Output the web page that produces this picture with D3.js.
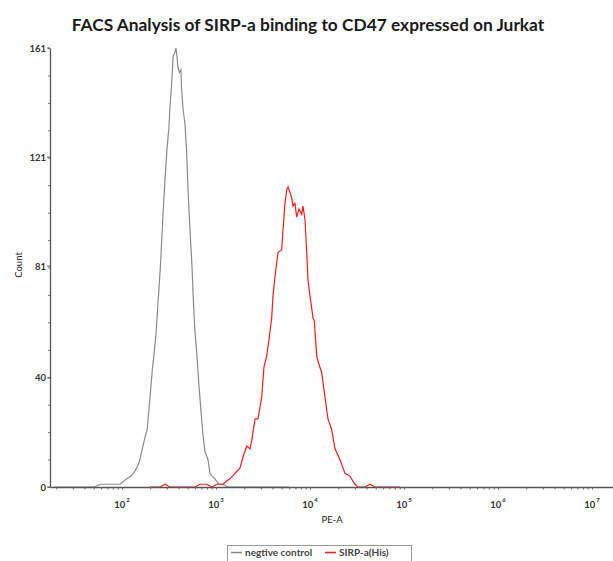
<!DOCTYPE html>
<html>
  <head>
    <meta charset="utf-8">
    <style>
      body { margin: 0; background: #fff; }
      text { font-family: Lato, "Open Sans", sans-serif; }
    </style>
  </head>
  <body>
    <script src="https://cdn.jsdelivr.net/npm/d3@7"></script>
    <script>
      // PE-A intensity (bin centre) and event count
      var negX = [19, 28, 40, 51, 59, 66, 75, 84, 90, 96, 103, 113, 125, 138, 148,
                  155, 167, 175, 185, 193, 201, 209, 218, 230, 242, 254, 260, 273,
                  287, 301, 316, 323, 336, 344, 349, 362, 375, 384, 394, 408, 424,
                  429, 445, 468, 485, 504, 529, 555, 575, 597, 628, 659, 692, 727,
                  763, 782, 822, 863, 906, 975, 1076, 1187, 1341, 1592, 2033, 2940, 6000];
      var negY = [0, 0, 0, 0, 1, 1, 1, 1, 1, 1, 2, 3, 4, 6, 8,
                  10, 15, 18, 21, 28, 35, 42, 48, 56, 68, 79, 85, 100,
                  113, 124, 132, 139, 147, 153, 158, 159, 161, 158, 154, 152, 153,
                  147, 139, 133, 124, 109, 94, 81, 68, 57, 48, 37, 28, 19,
                  13, 12, 10, 5, 4, 3, 1, 1, 0, 0, 0, 0, 0];

      var sirpX = [198, 254, 287, 323, 529, 597, 676, 797, 906, 1016, 1187, 1277,
                   1409, 1592, 1801, 1937, 2121, 2300, 2398, 2600, 2799, 3064, 3238,
                   3461, 3662, 3912, 4038, 4238, 4564, 4998, 5156, 5418, 5649, 5838,
                   6132, 6384, 6594, 6920, 7214, 7634, 8159, 8421, 8852, 9230, 9524,
                   9996, 10763, 11109, 11781, 12453, 13304, 14427, 15530, 17010,
                   18459, 20853, 23562, 26628, 30093, 32372, 38451, 43470, 49140, 90615];
      var sirpY = [0, 0, 1, 0, 0, 0, 1, 1, 0, 1, 1, 2,
                   3, 5, 7, 11, 15, 14, 17, 25, 25, 33, 44,
                   48, 54, 62, 70, 77, 86, 87, 94, 104, 109, 110,
                   108, 106, 103, 104, 99, 102, 100, 103, 98, 86, 76,
                   70, 62, 61, 48, 45, 42, 33, 25, 21,
                   14, 10, 5, 4, 1, 0, 0, 1, 0, 0];

      var decades = [1e2, 1e3, 1e4, 1e5, 1e6, 1e7];
      var decadeExp = ["2", "3", "4", "5", "6", "7"];
      var countTicks = [0, 40, 81, 121, 161];
      var seriesNames = ["negtive control", "SIRP-a(His)"];
      var seriesColors = ["#8a8a8a", "#ff1a1a"];

      var W = 613, H = 561;
      var plotL = 50, plotR = 613, plotT = 48, plotB = 487;

      var svg = d3.select("body").append("svg")
        .attr("width", W).attr("height", H);

      var x = d3.scaleLog()
        .domain([Math.pow(10, 2 - 72 / 94), Math.pow(10, 7 + 21 / 94)])
        .range([plotL, plotR]);
      var y = d3.scaleLinear().domain([0, 161]).range([plotB, plotT]);

      // title
      var title = svg.append("text")
        .attr("x", 308).attr("y", 31)
        .attr("text-anchor", "middle")
        .style("font-weight", "bold").style("font-size", "15px")
        .attr("fill", "#1a1a1a")
        .text("FACS Analysis of SIRP-a binding to CD47 expressed on Jurkat");
      var tw = title.node().getComputedTextLength();
      title.style("font-size", (15 * 473 / tw) + "px");

      // curves
      var line = d3.line()
        .x(function (d) { return x(d[0]); })
        .y(function (d) { return y(d[1]); });

      svg.append("path")
        .datum(d3.zip(negX, negY))
        .attr("d", line)
        .attr("fill", "none").attr("stroke", seriesColors[0])
        .attr("stroke-width", 1.2);

      svg.append("path")
        .datum(d3.zip(sirpX, sirpY))
        .attr("d", line)
        .attr("fill", "none").attr("stroke", seriesColors[1])
        .attr("stroke-width", 1.2);

      // y axis
      var minorY = d3.range(0, 17).map(function (i) { return 161 * i / 16; });
      var yAxis = svg.append("g")
        .attr("transform", "translate(" + plotL + ",0)")
        .call(d3.axisLeft(y).tickValues(minorY).tickFormat("")
          .tickSize(2).tickSizeOuter(0));
      yAxis.select(".domain").attr("stroke", "#555").attr("stroke-width", 1.3);
      yAxis.selectAll(".tick line").attr("stroke", "#777");

      svg.selectAll(".ylab")
        .data(countTicks)
        .enter().append("text")
        .attr("x", plotL - 4)
        .attr("y", function (d) { return y(d) + 3.5; })
        .attr("text-anchor", "end")
        .style("font-size", "9.5px").style("font-weight", "bold")
        .attr("fill", "#333")
        .text(function (d) { return d; });
      svg.selectAll(".ytk")
        .data(countTicks)
        .enter().append("line")
        .attr("x1", plotL - 3).attr("x2", plotL)
        .attr("y1", function (d) { return y(d); })
        .attr("y2", function (d) { return y(d); })
        .attr("stroke", "#555");

      // x axis
      var minorX = [];
      d3.range(1, 8).forEach(function (e) {
        d3.range(1, 10).forEach(function (m) {
          var v = m * Math.pow(10, e);
          if (v >= x.domain()[0] && v <= x.domain()[1]) minorX.push(v);
        });
      });
      var xAxis = svg.append("g")
        .attr("transform", "translate(0," + plotB + ")")
        .call(d3.axisBottom(x).tickValues(minorX).tickFormat("")
          .tickSize(2.5).tickSizeOuter(0));
      xAxis.select(".domain").attr("stroke", "#555").attr("stroke-width", 1.3);
      xAxis.selectAll(".tick line").attr("stroke", "#666");

      var xl = svg.selectAll(".xlab")
        .data(decades)
        .enter().append("text")
        .attr("x", function (d) { return x(d); })
        .attr("y", 508)
        .attr("text-anchor", "middle")
        .style("font-size", "9.5px").style("font-weight", "bold")
        .attr("fill", "#333");
      xl.append("tspan").text("10");
      xl.append("tspan")
        .attr("dy", -6).attr("dx", 1)
        .style("font-size", "6px")
        .text(function (d, i) { return decadeExp[i]; });

      svg.append("text")
        .attr("x", 332).attr("y", 523)
        .attr("text-anchor", "middle")
        .style("font-size", "9.5px")
        .attr("fill", "#222")
        .text("PE-A");

      svg.append("text")
        .attr("transform", "translate(22,265) rotate(-90)")
        .attr("text-anchor", "middle")
        .style("font-size", "9.5px")
        .attr("fill", "#222")
        .text("Count");

      // legend
      var lg = svg.append("g");
      lg.append("rect")
        .attr("x", 227.5).attr("y", 545.5)
        .attr("width", 184).attr("height", 20)
        .attr("fill", "#fff").attr("stroke", "#999");
      var lx = [231, 325];
      seriesNames.forEach(function (name, i) {
        lg.append("line")
          .attr("x1", lx[i]).attr("x2", lx[i] + 11)
          .attr("y1", 552.5).attr("y2", 552.5)
          .attr("stroke", seriesColors[i]).attr("stroke-width", 1.5);
        lg.append("text")
          .attr("x", lx[i] + 14).attr("y", 556)
          .style("font-size", "10px").style("font-weight", "bold")
          .attr("fill", "#444")
          .text(name);
      });
    </script>
  </body>
</html>
